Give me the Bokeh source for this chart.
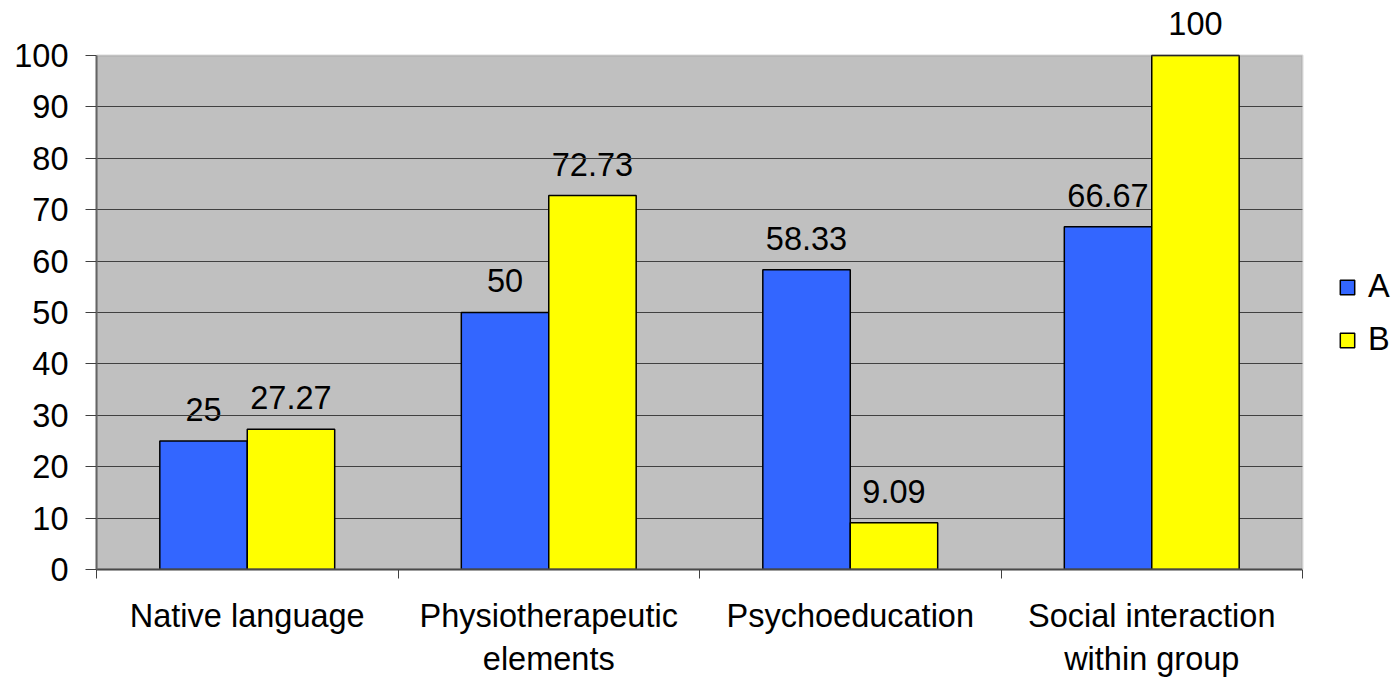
from bokeh.plotting import figure
from bokeh.models import (ColumnDataSource, Range1d, FixedTicker, LabelSet, Legend, LegendItem,
                          BoxAnnotation, Grid)
from bokeh.core.properties import value
from bokeh.transform import dodge
from bokeh.embed import file_html
from bokeh.resources import INLINE

categories = ["Native language", "Physiotherapeutic\nelements", "Psychoeducation",
              "Social interaction\nwithin group"]
series_a = [25, 50, 58.33, 66.67]
series_b = [27.27, 72.73, 9.09, 100]
labels_a = ["25", "50", "58.33", "66.67"]
labels_b = ["27.27", "72.73", "9.09", "100"]
y_ticks = [0, 10, 20, 30, 40, 50, 60, 70, 80, 90, 100]
y_max = 100

FONT = "Liberation Sans"
FS = "32.5px"

n = len(categories)
centers = [i + 0.5 for i in range(n)]
src = ColumnDataSource(dict(x=centers, a=series_a, b=series_b, la=labels_a, lb=labels_b))

# layout (pixels): plot area spans x 96..1302, y 55..570 in the picture
W, H = 1393, 679
left_px, right_px, top_px, bottom_px = 96, 1302, 55, 570
frame_top = 4
px_per_cat = (right_px - left_px) / n
px_per_unit = (bottom_px - top_px) / y_max
x_end = (W - left_px) / px_per_cat
y_end = (bottom_px - frame_top) / px_per_unit

p = figure(width=W, height=H, x_range=Range1d(0, x_end), y_range=Range1d(0, y_end),
           output_backend="svg", toolbar_location=None,
           min_border_left=left_px, min_border_right=0, min_border_top=frame_top,
           min_border_bottom=H - bottom_px)
p.background_fill_color = "white"
p.border_fill_color = "white"
p.outline_line_color = None
p.xgrid.grid_line_color = None
p.ygrid.grid_line_color = None

# grey plot area 0..n x 0..100
p.add_layout(BoxAnnotation(left=0, right=n, bottom=0, top=y_max, fill_color="#C0C0C0",
                           fill_alpha=1, line_color=None, level="underlay"))

bw = 0.29
ra = p.vbar(x=dodge("x", -bw / 2), top="a", width=bw, source=src,
            fill_color="#3366FF", line_color="black", line_width=1.5)
rb = p.vbar(x=dodge("x", bw / 2), top="b", width=bw, source=src,
            fill_color="#FFFF00", line_color="black", line_width=1.5)

for col, txt, off in (("a", "la", -bw / 2), ("b", "lb", bw / 2)):
    p.add_layout(LabelSet(x=dodge("x", off), y=col, text=txt, source=src,
                          text_align="center", text_baseline="alphabetic", y_offset=20,
                          text_font=value(FONT), text_font_size=FS, text_color="black",
                          level="underlay"))

# gridlines drawn over the value labels, like the reference
p.add_layout(Grid(dimension=1, ticker=FixedTicker(ticks=y_ticks[1:-1]), bounds=(0, n),
                  grid_line_color="#404040", grid_line_width=1))

# cover gridlines in the legend area
p.add_layout(BoxAnnotation(left=n, right=x_end + 1, bottom=-10, top=y_end + 10,
                           fill_color="white", fill_alpha=1, line_color=None))

# plot-area border
p.add_layout(BoxAnnotation(left=0, right=n, bottom=0, top=y_max, fill_alpha=0,
                           line_color="#808080", line_width=2))

# y axis
yax = p.yaxis[0]
yax.ticker = FixedTicker(ticks=y_ticks)
yax.bounds = (0, y_max)
yax.major_tick_out = 11
yax.major_tick_in = 0
yax.minor_tick_line_color = None
yax.axis_line_color = "#606060"
yax.axis_line_width = 2
yax.major_tick_line_color = "#404040"
yax.major_label_text_font = FONT
yax.major_label_text_font_size = FS
yax.major_label_text_color = "black"
yax.major_label_standoff = 17

# x axis: labels at category centres, minor ticks at category boundaries
xax = p.xaxis[0]
xax.ticker = FixedTicker(ticks=centers, minor_ticks=list(range(n + 1)))
xax.bounds = (0, n)
xax.major_label_overrides = {c: lab for c, lab in zip(centers, categories)}
xax.major_tick_line_color = None
xax.major_tick_out = 9
xax.minor_tick_out = 9
xax.minor_tick_in = 0
xax.minor_tick_line_color = "#404040"
xax.minor_tick_line_width = 1
xax.axis_line_color = "#404040"
xax.axis_line_width = 2
xax.major_label_text_font = FONT
xax.major_label_text_font_size = FS
xax.major_label_text_color = "black"
xax.major_label_standoff = 19

legend = Legend(items=[LegendItem(label="A", renderers=[ra]), LegendItem(label="B", renderers=[rb])],
                location=(1338 - left_px, bottom_px - 359), orientation="vertical",
                glyph_width=18, glyph_height=18,
                label_text_font=FONT, label_text_font_size=FS, label_text_color="black",
                label_standoff=12, spacing=16,
                padding=0, margin=0, border_line_color=None, background_fill_alpha=0)
p.add_layout(legend, "center")

open("out.html", "w").write(file_html(p, INLINE))
